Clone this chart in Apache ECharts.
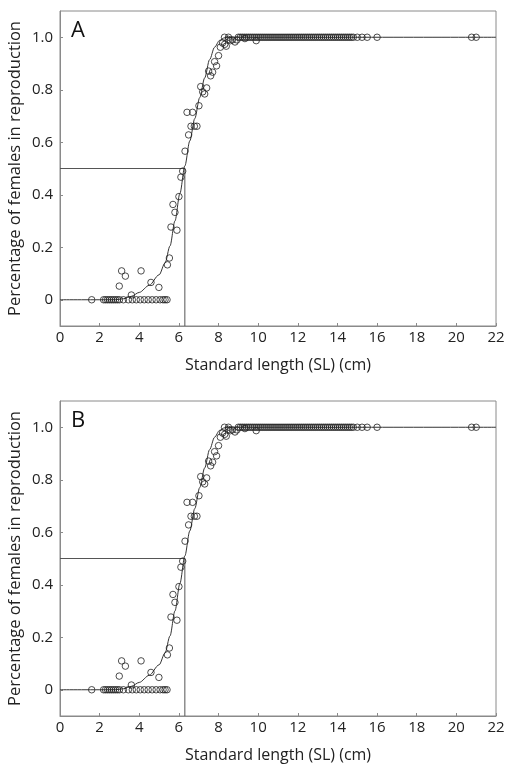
<!DOCTYPE html>
<html>
<head>
<meta charset="utf-8">
<script src="https://cdn.jsdelivr.net/npm/echarts@6/dist/echarts.min.js"></script>
<style>
  html, body { margin: 0; padding: 0; background: #fff; }
  #chart { width: 505px; height: 766px; }
</style>
</head>
<body>
<div id="chart"></div>
<script>
// standard length (cm) of females
const zeroRowX = [1.6, 2.2, 2.3, 2.4, 2.5, 2.6, 2.7, 2.8, 2.9, 3.0, 3.2, 3.45, 3.65, 3.85, 4.05,
  4.25, 4.45, 4.65, 4.85, 5.05, 5.2, 5.3, 5.4];
const oneRowX = [8.3, 8.5, 9.0, 9.1, 9.2, 9.3, 9.4, 9.5, 9.6, 9.7, 9.8, 9.9, 10.0, 10.1, 10.2, 10.3,
  10.4, 10.5, 10.6, 10.7, 10.8, 10.9, 11.0, 11.1, 11.2, 11.3, 11.4, 11.5, 11.6, 11.7, 11.8, 11.9,
  12.0, 12.1, 12.2, 12.3, 12.4, 12.5, 12.6, 12.7, 12.8, 12.9, 13.0, 13.1, 13.2, 13.3, 13.4, 13.5,
  13.6, 13.7, 13.8, 13.9, 14.0, 14.1, 14.2, 14.3, 14.4, 14.5, 14.6, 14.7, 14.8, 15.0, 15.24, 15.5,
  16.0, 20.77, 21.0];
const partialPts = [
  [2.99, 0.052], [3.11, 0.11], [3.3, 0.09], [3.6, 0.018], [4.09, 0.11], [4.59, 0.066], [4.99, 0.047],
  [5.42, 0.133], [5.52, 0.159], [5.6, 0.277], [5.9, 0.265], [5.7, 0.363], [5.8, 0.333], [6.0, 0.393],
  [6.1, 0.467], [6.19, 0.49], [6.31, 0.566], [6.49, 0.628], [6.41, 0.714], [6.69, 0.714], [6.61, 0.661],
  [6.78, 0.661], [6.91, 0.661], [7.01, 0.739], [7.1, 0.812], [7.2, 0.792], [7.3, 0.784], [7.4, 0.807],
  [7.5, 0.871], [7.6, 0.853], [7.7, 0.867], [7.8, 0.907], [7.9, 0.891], [8.0, 0.93], [8.09, 0.962],
  [8.2, 0.978], [8.31, 0.973], [8.39, 0.966], [8.49, 0.992], [8.6, 0.987], [8.7, 0.99], [8.83, 0.982],
  [8.93, 0.99], [9.33, 0.995], [9.9, 0.987]
];
// fitted maturity curve
const curveX = [0, 2.8, 3.2, 3.6, 4.0, 4.5, 5.0, 5.3, 5.55, 5.8, 6.05, 6.3, 6.55, 6.8, 7.05, 7.3, 7.55, 7.8, 8.05, 8.3, 8.6, 22];
const curveY = [0, 0, 0.004, 0.013, 0.028, 0.055, 0.095, 0.14, 0.205, 0.3, 0.405, 0.51, 0.605, 0.69, 0.77, 0.845, 0.915, 0.962, 0.988, 0.998, 1.0, 1.0];
// L50 guide
const l50 = 6.3;
const xTicks = [0, 2, 4, 6, 8, 10, 12, 14, 16, 18, 20, 22];
const yTicks = [0, 0.2, 0.4, 0.6, 0.8, 1.0];
const panelNames = ['A', 'B'];

const chart = echarts.init(document.getElementById('chart'));

const font = 'Open Sans';
const gray = '#8a8a8a';
const tops = [11, 401];

const points = []
  .concat(zeroRowX.map(x => [x, 0]))
  .concat(partialPts)
  .concat(oneRowX.map(x => [x, 1]));
const curve = curveX.map((x, i) => [x, curveY[i]]);

const grids = [], xAxes = [], yAxes = [], series = [], graphics = [];
tops.forEach((top, i) => {
  grids.push({
    left: 60, top: top, width: 436, height: 315, outerBoundsMode: 'none', containLabel: false,
    show: true, borderColor: gray, borderWidth: 1
  });
  xAxes.push({
    gridIndex: i, type: 'value', min: 0, max: 22, interval: 2,
    name: 'Standard length (SL) (cm)', nameLocation: 'middle', nameGap: 31,
    nameTextStyle: { fontFamily: font, fontSize: 16, color: '#222' },
    axisLine: { onZero: false, lineStyle: { color: gray } },
    axisTick: { inside: true, length: 3, lineStyle: { color: gray } },
    axisLabel: { fontFamily: font, fontSize: 15, color: '#222', margin: 4, customValues: xTicks },
    splitLine: { show: false }
  });
  yAxes.push({
    gridIndex: i, type: 'value', min: -0.1, max: 1.1,
    name: 'Percentage of females in reproduction', nameLocation: 'middle', nameGap: 36,
    nameMoveOverlap: false,
    nameTextStyle: { fontFamily: font, fontSize: 16.5, color: '#222' },
    axisLine: { onZero: false, lineStyle: { color: gray } },
    axisTick: { inside: true, length: 3, lineStyle: { color: gray }, customValues: yTicks },
    axisLabel: {
      fontFamily: font, fontSize: 15, color: '#222', margin: 7, customValues: yTicks,
      formatter: v => (Math.abs(v) < 1e-9 ? '0' : v.toFixed(1))
    },
    splitLine: { show: false }
  });
  series.push({
    type: 'line', xAxisIndex: i, yAxisIndex: i, data: [[0, 0.5], [l50, 0.5], [l50, -0.1]],
    symbol: 'none', lineStyle: { color: '#555', width: 1 }, silent: true, z: 1
  });
  series.push({
    type: 'line', xAxisIndex: i, yAxisIndex: i, data: curve, smooth: 0.3, smoothMonotone: 'x',
    symbol: 'none', lineStyle: { color: '#333', width: 1 }, silent: true, z: 2
  });
  series.push({
    type: 'scatter', xAxisIndex: i, yAxisIndex: i, data: points, symbol: 'circle', symbolSize: 6.5,
    itemStyle: { color: 'rgba(255,255,255,0)', borderColor: '#222', borderWidth: 1 }, z: 3
  });
  graphics.push({
    type: 'text', left: 71, top: top + 9,
    style: { text: panelNames[i], fontFamily: font, fontSize: 22, fill: '#111' }
  });
});

const option = {
  animation: false,
  backgroundColor: '#fff',
  grid: grids,
  xAxis: xAxes,
  yAxis: yAxes,
  series: series,
  graphic: graphics
};

chart.setOption(option);
</script>
</body>
</html>
